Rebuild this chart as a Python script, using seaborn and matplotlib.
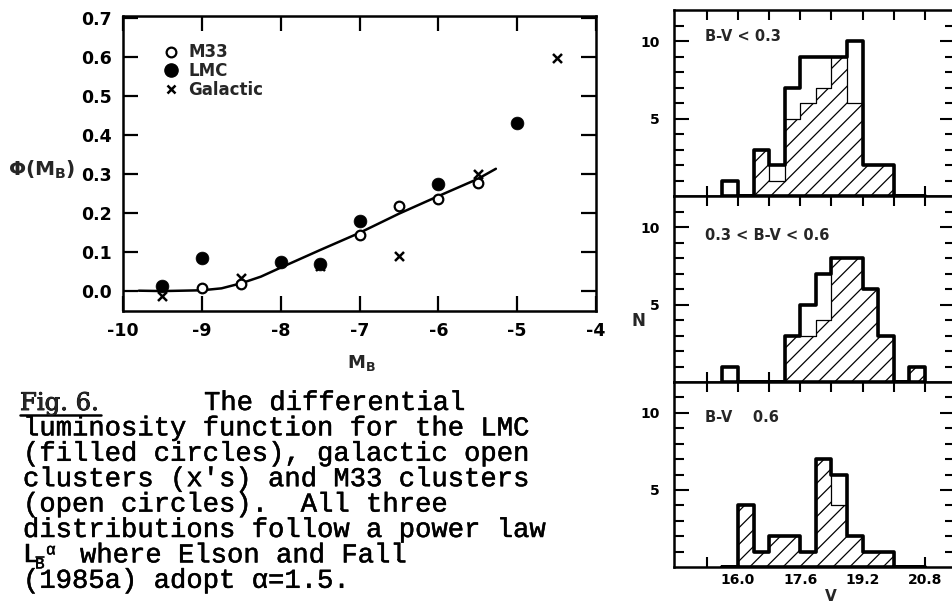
import matplotlib
matplotlib.use("Agg")
import matplotlib.pyplot as plt
import matplotlib.patheffects as pe
from matplotlib.lines import Line2D
from matplotlib.ticker import FixedLocator
import seaborn as sns

# ---------------- luminosity function (left panel) ----------------
m33_mag = [-9.0, -8.5, -7.0, -6.5, -6.0, -5.5]
m33_phi = [0.008, 0.019, 0.145, 0.220, 0.237, 0.277]

lmc_mag = [-9.5, -9.0, -8.0, -7.5, -7.0, -6.0, -5.0]
lmc_phi = [0.013, 0.086, 0.076, 0.070, 0.180, 0.275, 0.432]

gal_mag = [-9.5, -8.5, -7.5, -6.5, -5.5, -4.5]
gal_phi = [-0.011, 0.034, 0.066, 0.091, 0.300, 0.598]

# power-law fit drawn through the points
fit_mag = [-9.8, -9.5, -9.0, -8.75, -8.5, -8.25, -8.0, -7.5, -7.0, -6.5, -6.0, -5.5, -5.27]
fit_phi = [0.002, 0.001, 0.003, 0.008, 0.021, 0.038, 0.061, 0.106, 0.150, 0.199, 0.244, 0.288, 0.314]

mag_ticks = [-10, -9, -8, -7, -6, -5, -4]
phi_ticks = [0.0, 0.1, 0.2, 0.3, 0.4, 0.5, 0.6, 0.7]

# ---------------- V histograms (right panels) ----------------
# bins of 0.4 mag; left edges
v_left = [15.6, 16.0, 16.4, 16.8, 17.2, 17.6, 18.0, 18.4, 18.8, 19.2, 19.6, 20.0, 20.4]
blue_total   = [1, 0, 3, 2, 7, 9, 9, 9, 10, 2, 2, 0, 0]
blue_hatched = [0, 0, 3, 1, 5, 6, 7, 9, 6, 2, 2, 0, 0]
mid_total    = [1, 0, 0, 0, 3, 5, 7, 8, 8, 6, 3, 0, 1]
mid_hatched  = [0, 0, 0, 0, 3, 3, 4, 8, 8, 6, 3, 0, 1]
red_total    = [0, 4, 1, 2, 2, 1, 7, 6, 2, 1, 1, 0, 0]
red_hatched  = [0, 4, 1, 2, 2, 1, 7, 4, 2, 1, 1, 0, 0]
panel_labels = ["B-V < 0.3", "0.3 < B-V < 0.6", "B-V    0.6"]
v_major = [16.0, 17.6, 19.2, 20.8]
v_minor = [15.2, 16.8, 18.4, 20.0]

caption = [
    "luminosity function for the LMC",
    "(filled circles), galactic open",
    "clusters (x's) and M33 clusters",
    "(open circles).  All three",
    "distributions follow a power law",
]

sns.set_theme(style="ticks", rc={
    "axes.edgecolor": "black",
    "axes.linewidth": 1.8,
    "xtick.color": "black",
    "ytick.color": "black",
    "hatch.linewidth": 0.9,
    "hatch.color": "black",
    "mathtext.default": "bf",
})
plt.rcParams["font.family"] = ["DejaVu Sans"]
plt.rcParams["font.weight"] = "bold"

W, H = 952, 603
fig = plt.figure(figsize=(W / 100, H / 100), dpi=100)
fig.patch.set_facecolor("white")


def box(l, t, r, b):
    return [l / W, 1 - b / H, (r - l) / W, (b - t) / H]


# ---------------- left panel ----------------
ax = fig.add_axes(box(123, 16, 596, 311))
sns.lineplot(x=fit_mag, y=fit_phi, ax=ax, color="black", linewidth=1.8, sort=False, zorder=2)
sns.scatterplot(x=gal_mag, y=gal_phi, ax=ax, marker="x", s=42, color="black",
                linewidth=1.8, zorder=3)
sns.scatterplot(x=lmc_mag, y=lmc_phi, ax=ax, marker="o", s=85, color="black",
                edgecolor="black", linewidth=0.5, zorder=4)
sns.scatterplot(x=m33_mag, y=m33_phi, ax=ax, marker="o", s=48, color="white",
                edgecolor="black", linewidth=1.6, zorder=5)

ax.set_xlim(-10, -4)
ax.set_ylim(-0.05, 0.705)
ax.xaxis.set_major_locator(FixedLocator(mag_ticks))
ax.yaxis.set_major_locator(FixedLocator(phi_ticks))
ax.set_xticklabels([f"{t:d}" for t in mag_ticks])
ax.set_yticklabels([f"{t:.1f}" for t in phi_ticks])
ax.tick_params(direction="in", top=True, right=True, length=11, width=1.6,
               labelsize=12.5, pad=8)
for lab in ax.get_xticklabels() + ax.get_yticklabels():
    lab.set_fontweight("bold")
for s in ax.spines.values():
    s.set_linewidth(1.8)

ax.set_xlabel(r"M$_{\mathrm{B}}$", fontsize=13, fontweight="bold")
ax.xaxis.set_label_coords(0.503, -0.142)
ax.set_ylabel(r"Φ(M$_{\mathrm{B}}$)", fontsize=14.5, fontweight="bold", rotation=0,
              ha="center", va="center")
ax.yaxis.set_label_coords(-0.171, 0.478)

handles = [
    Line2D([], [], ls="none", marker="o", mfc="white", mec="black", mew=1.6, ms=7),
    Line2D([], [], ls="none", marker="o", color="black", ms=9.5),
    Line2D([], [], ls="none", marker="x", color="black", mew=1.8, ms=6),
]
ax.legend(handles, ["M33", "LMC", "Galactic"], loc="upper left",
          bbox_to_anchor=(0.087, 0.907), frameon=False, handlelength=0.8,
          handletextpad=0.65, labelspacing=0.05, borderaxespad=0, borderpad=0,
          prop={"weight": "bold", "size": 12})

# ---------------- right panels ----------------
rows = [(10, 196), (196, 382), (382, 567)]
totals = [blue_total, mid_total, red_total]
hatched = [blue_hatched, mid_hatched, red_hatched]
label_y = [0.856, 0.79, 0.808]
centers = [v + 0.2 for v in v_left]
axes = []
for i, (t, b) in enumerate(rows):
    axr = fig.add_axes(box(674, t, 955, b), sharex=axes[0] if axes else None)
    axes.append(axr)
    sns.histplot(x=centers, weights=hatched[i], binwidth=0.4, binrange=(15.6, 20.8),
                 element="step", fill=True, color="black", facecolor="white",
                 edgecolor="black", hatch="//", linewidth=0.9, alpha=1, ax=axr, zorder=2)
    sns.histplot(x=centers, weights=totals[i], binwidth=0.4, binrange=(15.6, 20.8),
                 element="step", fill=True, color="black", facecolor="none",
                 edgecolor="black", linewidth=2.6, alpha=1, ax=axr, zorder=3)
    axr.set_xlim(14.36, 21.57)
    axr.set_ylim(0, 12)
    axr.set_ylabel("")
    axr.set_xlabel("")
    axr.yaxis.set_major_locator(FixedLocator([5, 10]))
    axr.yaxis.set_minor_locator(FixedLocator([1, 2, 3, 4, 6, 7, 8, 9, 11]))
    axr.xaxis.set_major_locator(FixedLocator(v_major))
    axr.xaxis.set_minor_locator(FixedLocator(v_minor))
    axr.tick_params(which="both", direction="in", top=True, right=True, width=1.5)
    axr.tick_params(axis="y", which="major", length=10.5, labelsize=10, pad=10)
    axr.tick_params(axis="y", which="minor", length=7.5)
    axr.tick_params(axis="x", which="both", length=7, labelsize=10, pad=4)
    axr.set_yticklabels(["5", "10"])
    for lab in axr.get_yticklabels():
        lab.set_fontweight("bold")
    for s in axr.spines.values():
        s.set_linewidth(1.8)
    axr.text(0.112, label_y[i], panel_labels[i], transform=axr.transAxes,
             fontsize=10.5, fontweight="bold", ha="left", va="center")
    if i < 2:
        axr.tick_params(axis="x", labelbottom=False)

axes[2].set_xticklabels([f"{v:.1f}" for v in v_major])
for lab in axes[2].get_xticklabels():
    lab.set_fontweight("bold")
axes[2].set_xlabel("V", fontsize=11, fontweight="bold")
axes[2].xaxis.set_label_coords(0.559, -0.118)
axes[1].set_ylabel("N", fontsize=12, fontweight="bold", rotation=0, ha="center", va="center")
axes[1].yaxis.set_label_coords(-0.128, 0.328)

# ---------------- caption ----------------
thick = [pe.withStroke(linewidth=0.35, foreground="black")]
mono = dict(family="Liberation Mono", size=19.6, color="black", va="baseline",
            ha="left", fontweight="normal", path_effects=thick)
base = [410, 435.4, 460.8, 486.2, 511.6, 537.0, 562.4, 587.8]
x0 = 23


def fy(y):
    return 1 - y / H


fig.text(20 / W, fy(base[0]), "Fig. 6.", family="DejaVu Serif", size=17.5,
         fontweight="normal", va="baseline", ha="left",
         path_effects=[pe.withStroke(linewidth=0.6, foreground="black")])
fig.add_artist(Line2D([20 / W, 101 / W], [fy(414.5), fy(414.5)], color="black", lw=1.8))
fig.text(204 / W, fy(base[0]), "The differential", **mono)
for k, line in enumerate(caption):
    fig.text(x0 / W, fy(base[k + 1]), line, **mono)

fig.text(x0 / W, fy(base[6]), "L", **mono)
small = dict(mono, size=11.5)
fig.text(35 / W, fy(base[6] + 6), "B", **small)
fig.add_artist(Line2D([35.5 / W, 44 / W], [fy(557), fy(557)], color="black", lw=1.2))
fig.text(46 / W, fy(base[6] - 8), "α", **small)
fig.text(80 / W, fy(base[6]), "where Elson and Fall", **mono)
fig.text(x0 / W, fy(base[7]), "(1985a) adopt α=1.5.", **mono)

fig.savefig("out.png", dpi=100, facecolor="white")
